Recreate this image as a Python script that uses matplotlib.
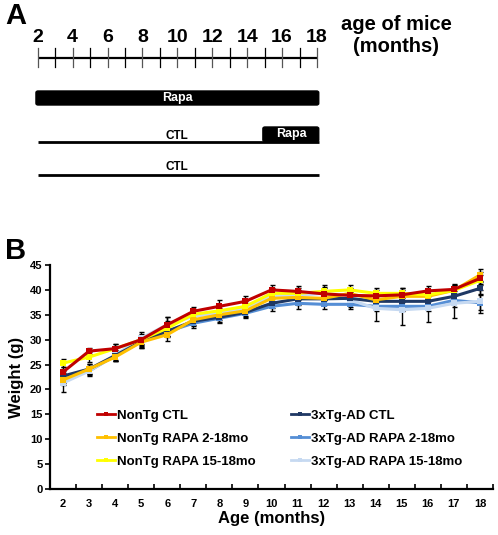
import matplotlib
matplotlib.use("Agg")
import matplotlib.pyplot as plt
from matplotlib.patches import FancyBboxPatch
import numpy as np

plt.rcParams['font.family'] = ['Liberation Sans', 'DejaVu Sans']
plt.rcParams['font.weight'] = 'bold'

# ---------------- data ----------------
months = list(range(2, 19))
timeline_ticks = list(range(2, 19))
timeline_labels = list(range(2, 19, 2))
rapa_full = (2, 18)
rapa_late = (15, 18)

series_names = ["NonTg CTL", "NonTg RAPA 2-18mo", "NonTg RAPA 15-18mo",
                "3xTg-AD CTL", "3xTg-AD RAPA 2-18mo", "3xTg-AD RAPA 15-18mo"]
series_colors = ["#C00000", "#FFC000", "#FFFF00", "#1F3864", "#558ED5", "#C6D9F1"]

nontg_ctl = [23.5, 27.7, 28.2, 30.0, 33.0, 35.7, 36.7, 37.7, 40.0, 39.7, 39.2, 38.9, 38.8, 39.0, 39.8, 40.1, 42.3]
nontg_rapa_2_18 = [21.9, 24.1, 26.5, 29.5, 31.0, 34.0, 35.0, 35.8, 38.3, 38.5, 38.3, 39.3, 38.0, 38.7, 38.7, 39.9, 43.0]
nontg_rapa_15_18 = [25.3, 26.5, 28.2, 30.0, 32.3, 35.1, 35.8, 36.7, 39.3, 39.3, 39.7, 40.0, 39.3, 39.3, 39.0, 39.9, 41.9]
tg_ctl = [22.7, 24.1, 26.8, 29.6, 31.7, 33.7, 34.5, 35.5, 37.3, 38.2, 38.2, 38.3, 37.7, 37.7, 37.7, 38.7, 40.3]
tg_rapa_2_18 = [22.3, 23.7, 26.8, 29.6, 31.6, 33.3, 34.3, 35.3, 36.7, 37.3, 37.1, 37.1, 36.7, 36.7, 36.7, 37.9, 37.4]
tg_rapa_15_18 = [21.3, 23.7, 26.9, 30.3, 33.0, 34.7, 35.3, 36.3, 38.7, 38.9, 39.3, 38.0, 36.3, 36.0, 36.3, 37.3, 37.7]

err_nontg_ctl = [1.0, 0.6, 1.0, 1.2, 1.5, 0.9, 1.2, 1.0, 1.0, 1.0, 1.2, 1.0, 1.2, 1.3, 1.0, 1.0, 1.2]
err_nontg_rapa_2_18 = [1.0, 1.0, 0.8, 1.0, 1.3, 1.0, 1.0, 1.0, 1.0, 1.2, 1.3, 1.0, 1.2, 1.2, 1.0, 1.0, 1.2]
err_nontg_rapa_15_18 = [0.8, 1.0, 1.0, 1.0, 1.5, 1.0, 1.0, 1.0, 1.0, 1.0, 1.3, 1.0, 1.0, 1.0, 1.0, 1.0, 1.0]
err_tg_ctl = [1.0, 1.0, 1.0, 1.2, 1.0, 1.0, 1.0, 1.0, 1.0, 1.2, 1.0, 1.0, 1.0, 1.0, 1.0, 1.0, 1.2]
err_tg_rapa_2_18 = [1.0, 0.8, 1.0, 1.2, 1.0, 1.0, 1.0, 1.0, 1.0, 1.2, 1.0, 1.0, 1.0, 1.0, 1.0, 1.3, 1.5]
err_tg_rapa_15_18 = [1.8, 1.0, 1.0, 1.2, 1.5, 1.0, 1.0, 1.0, 1.2, 1.0, 1.3, 1.5, 2.5, 3.0, 2.8, 3.0, 2.3]

series_values = [nontg_ctl, nontg_rapa_2_18, nontg_rapa_15_18, tg_ctl, tg_rapa_2_18, tg_rapa_15_18]
series_errors = [err_nontg_ctl, err_nontg_rapa_2_18, err_nontg_rapa_15_18, err_tg_ctl, err_tg_rapa_2_18, err_tg_rapa_15_18]

# ---------------- figure ----------------
W, H = 498, 535
fig = plt.figure(figsize=(W / 100, H / 100), dpi=100)

# ---- Panel A: timeline schematic ----
axA = fig.add_axes([0, 1 - 235 / H, 1, 235 / H])
px_per_month = (317 - 37.7) / 16.0
x_left = 2 - 37.7 / px_per_month
x_right = 2 + (W - 37.7) / px_per_month
axA.set_xlim(x_left, x_right)
axA.set_ylim(235, 0)
axA.axis('off')

axA.plot([timeline_ticks[0], timeline_ticks[-1]], [58, 58], color='black', lw=1.6, solid_capstyle='butt')
for i, m in enumerate(timeline_ticks):
    axA.plot([m, m], [48, 67], color='#555555' if i % 2 == 0 else 'black', lw=0.9)
for m in timeline_labels:
    axA.text(m, 38, str(m), ha='center', va='center', fontsize=14, fontweight='bold')
axA.text(x_left + 396 / px_per_month, 35, "age of mice\n(months)", ha='center', va='center',
         fontsize=14.5, fontweight='bold', linespacing=1.2)

pad = 0.1
axA.add_patch(FancyBboxPatch((rapa_full[0] - pad, 91), rapa_full[1] - rapa_full[0] + 2 * pad, 14,
                             boxstyle="round,pad=0,rounding_size=0.12", mutation_aspect=14,
                             facecolor='black', edgecolor='black'))
axA.text((rapa_full[0] + rapa_full[1]) / 2, 98.5, "Rapa", color='white', ha='center', va='center',
         fontsize=9, fontweight='bold')

axA.plot([rapa_full[0], rapa_full[1] + pad], [142, 142], color='black', lw=2, solid_capstyle='butt')
axA.add_patch(FancyBboxPatch((rapa_late[0] - pad, 127), rapa_late[1] - rapa_late[0] + 2 * pad, 14.5,
                             boxstyle="round,pad=0,rounding_size=0.12", mutation_aspect=14,
                             facecolor='black', edgecolor='black'))
axA.text((rapa_late[0] + rapa_late[1]) / 2 + 0.05, 133.5, "Rapa", color='white', ha='center', va='center',
         fontsize=9, fontweight='bold')
axA.text((rapa_full[0] + rapa_full[1]) / 2, 136, "CTL", ha='center', va='center', fontsize=8.5, fontweight='bold')

axA.plot([rapa_full[0], rapa_full[1] + pad], [175, 175], color='black', lw=2, solid_capstyle='butt')
axA.text((rapa_full[0] + rapa_full[1]) / 2, 167, "CTL", ha='center', va='center', fontsize=8.5, fontweight='bold')

fig.text(5 / W, 1 - 16 / H, "A", fontsize=21, fontweight='bold', va='center', ha='left')
fig.text(5 / W, 1 - 251 / H, "B", fontsize=21, fontweight='bold', va='center', ha='left')

# ---- Panel B: weight curves ----
axB = fig.add_axes([50 / W, 1 - 489 / H, (493 - 50) / W, (489 - 265) / H])
order = [4, 5, 3, 1, 2, 0]
for idx in order:
    vals, errs, col = series_values[idx], series_errors[idx], series_colors[idx]
    axB.errorbar(months, vals, yerr=errs, fmt='none', ecolor='black', elinewidth=1.0,
                 capsize=1.8, capthick=1.0, zorder=2)
    axB.plot(months, vals, color=col, lw=2.2, marker='s', markersize=4.5,
             markeredgewidth=0, zorder=3, label=series_names[idx])

axB.set_xlim(1.5, 18.5)
axB.set_ylim(0, 45)
axB.set_yticks(range(0, 46, 5))
axB.set_xticks(months)
axB.set_xticks(np.arange(1.5, 18.6, 1.0), minor=True)
axB.tick_params(axis='x', which='major', length=0, pad=7, labelsize=8)
axB.tick_params(axis='x', which='minor', direction='in', length=3.5, width=1.2)
axB.tick_params(axis='y', which='major', direction='out', length=3.5, width=1.2, labelsize=8, pad=2)
for lab in axB.get_xticklabels() + axB.get_yticklabels():
    lab.set_fontweight('bold')
for s in ['top', 'right']:
    axB.spines[s].set_visible(False)
for s in ['left', 'bottom']:
    axB.spines[s].set_linewidth(1.6)
axB.set_xlabel("Age (months)", fontsize=12, fontweight='bold', labelpad=2)
axB.set_ylabel("Weight (g)", fontsize=12, fontweight='bold', labelpad=4)

leg_handles = []
for idx in range(6):
    h = plt.Line2D([], [], color=series_colors[idx], lw=2, marker='s', markersize=3, markeredgewidth=0)
    leg_handles.append(h)
axB.legend(leg_handles, series_names, ncol=2, loc='center', bbox_to_anchor=(0.519, 0.225),
           frameon=False, prop={'weight': 'bold', 'size': 9.5}, handlelength=1.35,
           handletextpad=0.15, columnspacing=2.7, labelspacing=0.8)

fig.savefig("out.png", dpi=100)
